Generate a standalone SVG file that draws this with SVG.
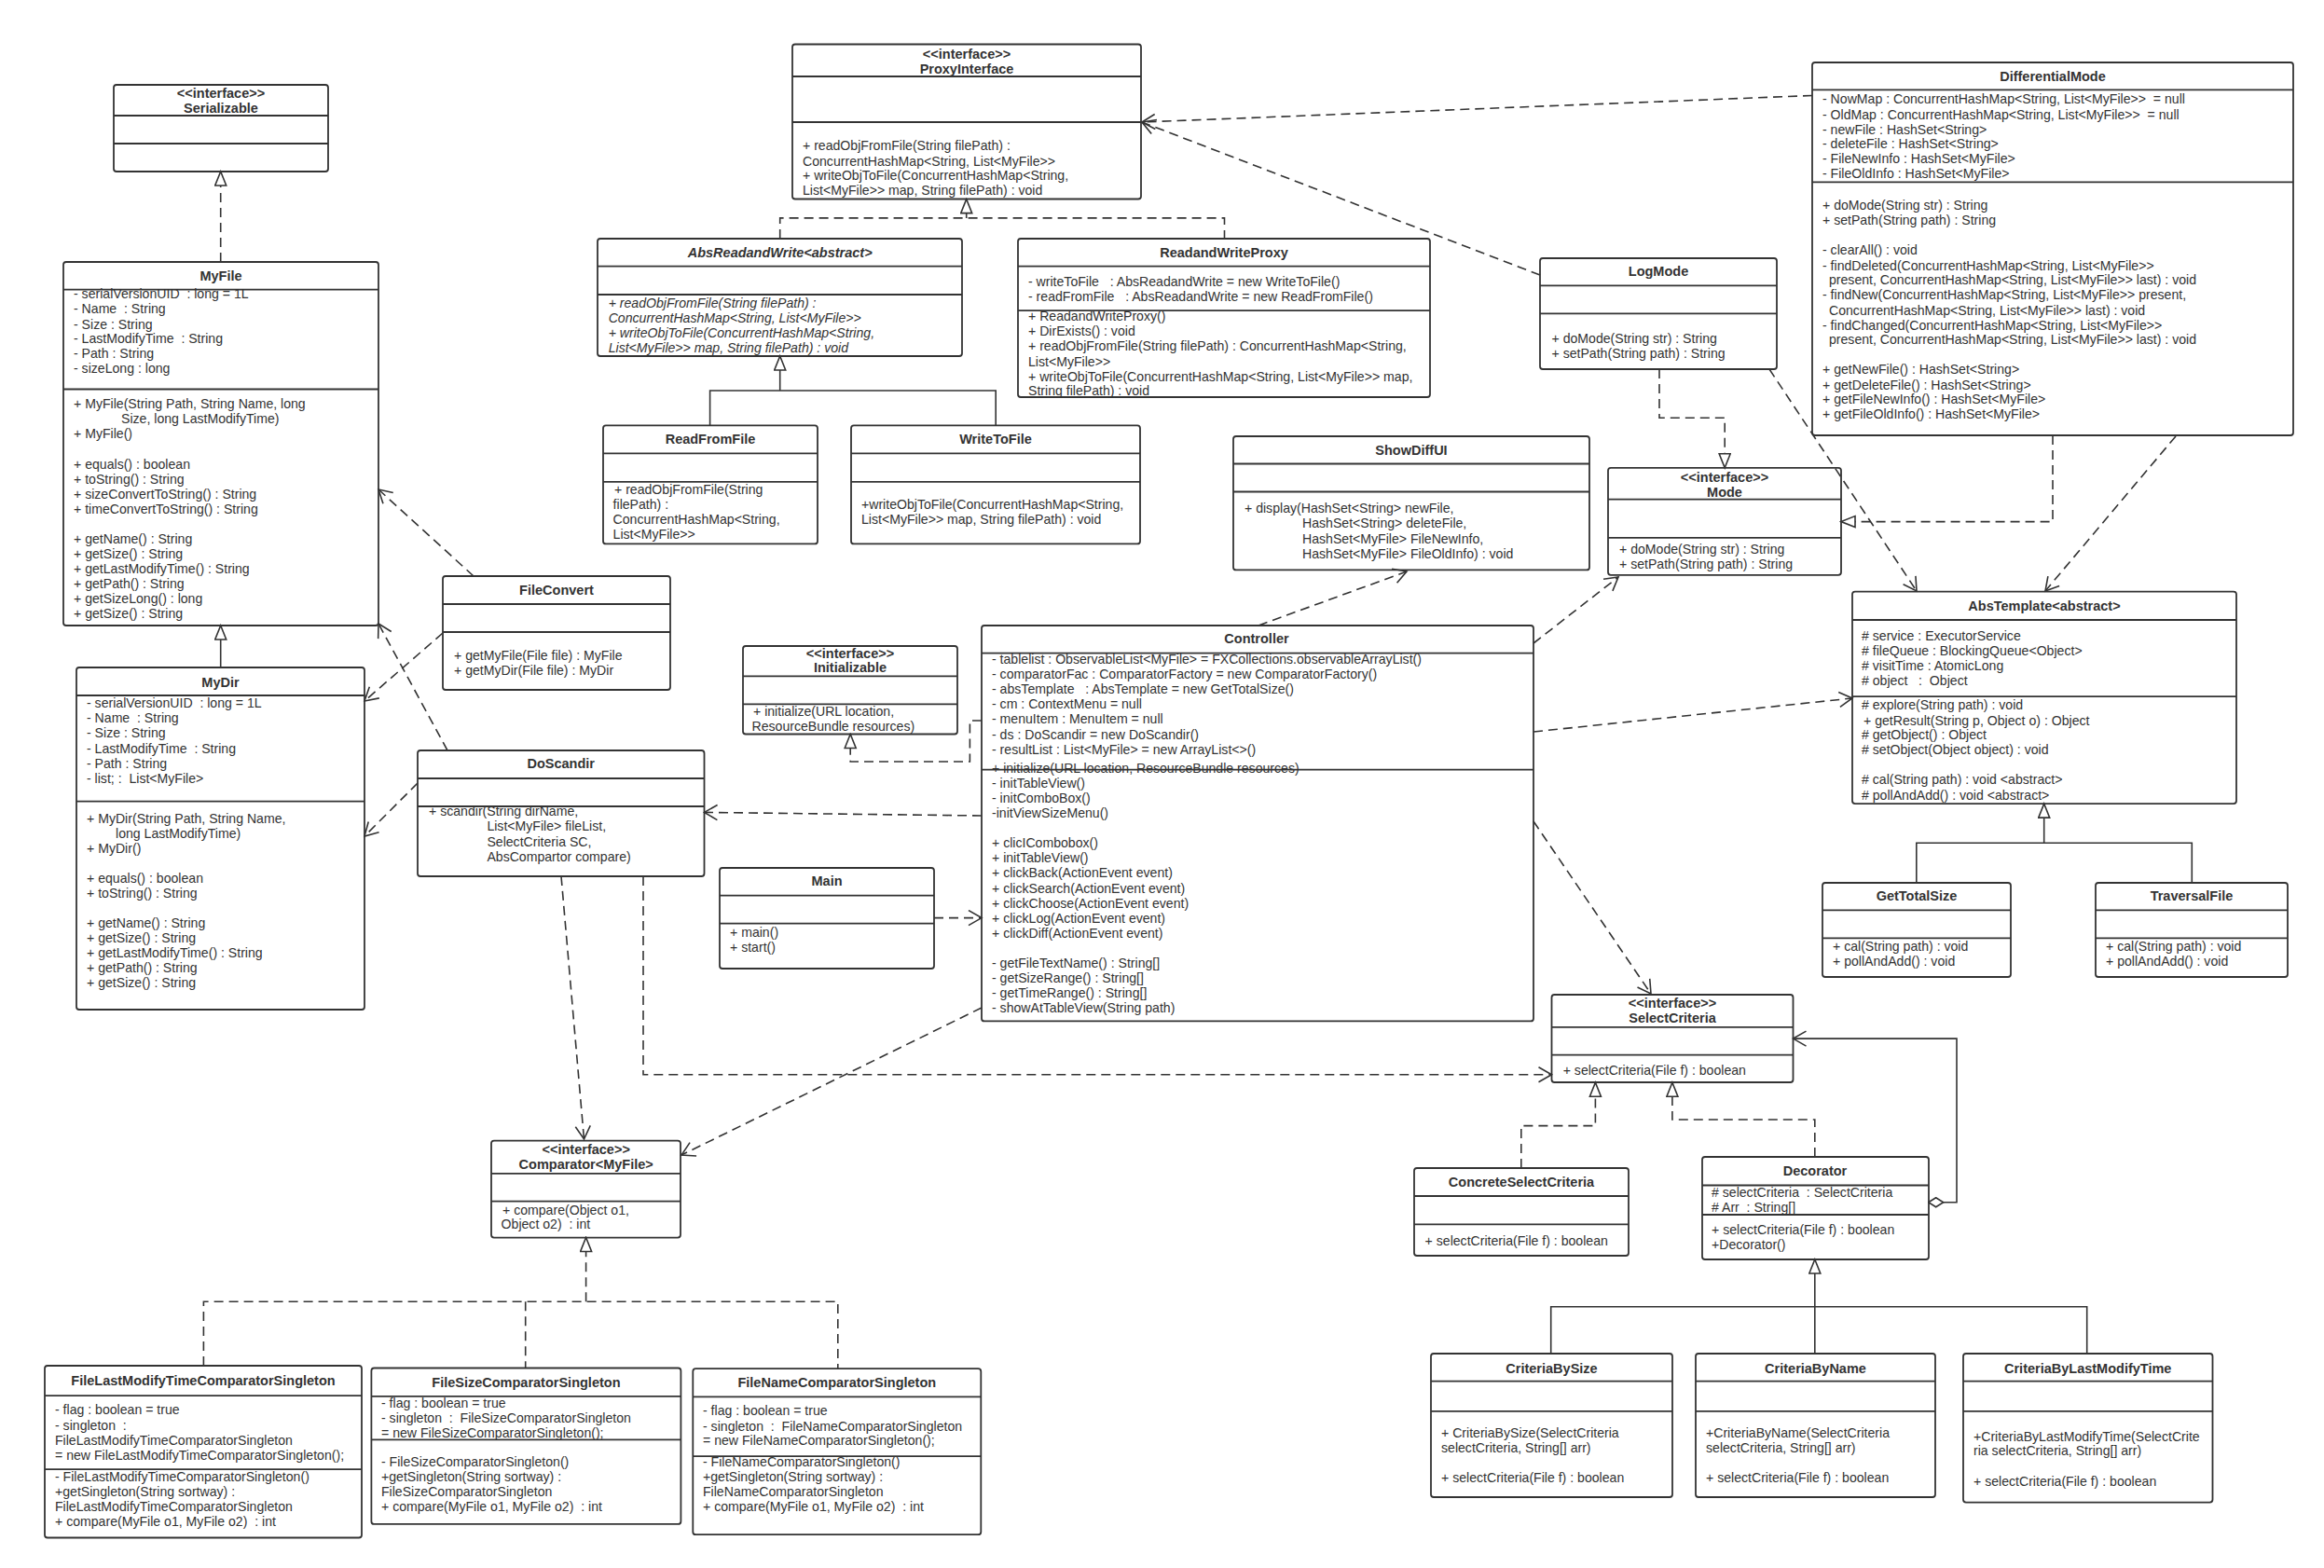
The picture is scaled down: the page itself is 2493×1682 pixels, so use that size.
<svg xmlns="http://www.w3.org/2000/svg" width="2493" height="1682" viewBox="0 0 2493 1682">
<style>
.box{fill:#fff;stroke:#333;stroke-width:1.8}
.dv{stroke:#333;stroke-width:1.8}
.t{font-family:"Liberation Sans",Arial,sans-serif;font-size:14.1px;fill:#333;white-space:pre}
.b{font-weight:bold;text-anchor:middle;font-size:14.5px}
.i{font-style:italic}
.dash{fill:none;stroke:#333;stroke-width:1.6;stroke-dasharray:10 6}
.solid{fill:none;stroke:#333;stroke-width:1.6}
.oa{marker-end:url(#openArrow)}
.ht{marker-end:url(#hollowTri)}
</style>
<defs>
<marker id="openArrow" markerUnits="userSpaceOnUse" markerWidth="18" markerHeight="20" refX="15" refY="9" orient="auto">
<path d="M1,1 L15,9 L1,17" fill="none" stroke="#333" stroke-width="1.6" stroke-dasharray="none"/>
</marker>
<marker id="hollowTri" markerUnits="userSpaceOnUse" markerWidth="18" markerHeight="16" refX="16" refY="7" orient="auto">
<path d="M1,1 L16,7 L1,13 Z" fill="#fff" stroke="#333" stroke-width="1.6" stroke-dasharray="none"/>
</marker>
<marker id="diamond" markerUnits="userSpaceOnUse" markerWidth="20" markerHeight="14" refX="1" refY="6" orient="auto">
<path d="M1,6 L9,1 L17,6 L9,11 Z" fill="#fff" stroke="#333" stroke-width="1.6"/>
</marker>
</defs>
<rect width="2493" height="1682" fill="#fff"/>

<g id="Serializable">
<rect class="box" x="122" y="91" width="230" height="93" rx="3"/>
<line class="dv" x1="122" y1="124" x2="352" y2="124"/>
<line class="dv" x1="122" y1="154" x2="352" y2="154"/>
<text class="t b" x="237" y="105">&lt;&lt;interface&gt;&gt;</text>
<text class="t b" x="237" y="120.5">Serializable</text>
</g>

<g id="MyFile">
<rect class="box" x="68" y="281" width="338" height="390" rx="3"/>
<text class="t b" x="237" y="300.5">MyFile</text>
<text class="t">
<tspan x="79" y="320.4">- serialVersionUID  : long = 1L</tspan>
<tspan x="79" y="336.4">- Name  : String</tspan>
<tspan x="79" y="352.5">- Size : String</tspan>
<tspan x="79" y="368.2">- LastModifyTime  : String</tspan>
<tspan x="79" y="384.3">- Path : String</tspan>
<tspan x="79" y="400.4">- sizeLong : long</tspan>
<tspan x="79" y="438.2">+ MyFile(String Path, String Name, long</tspan>
<tspan x="130" y="454.3">Size, long LastModifyTime)</tspan>
<tspan x="79" y="470.4">+ MyFile()</tspan>
<tspan x="79" y="502.5">+ equals() : boolean</tspan>
<tspan x="79" y="518.6">+ toString() : String</tspan>
<tspan x="79" y="534.7">+ sizeConvertToString() : String</tspan>
<tspan x="79" y="550.7">+ timeConvertToString() : String</tspan>
<tspan x="79" y="582.8">+ getName() : String</tspan>
<tspan x="79" y="598.9">+ getSize() : String</tspan>
<tspan x="79" y="615">+ getLastModifyTime() : String</tspan>
<tspan x="79" y="631">+ getPath() : String</tspan>
<tspan x="79" y="647">+ getSizeLong() : long</tspan>
<tspan x="79" y="663">+ getSize() : String</tspan>
</text>
<line class="dv" x1="68" y1="310.7" x2="406" y2="310.7"/>
<line class="dv" x1="68" y1="417.5" x2="406" y2="417.5"/>
</g>

<g id="MyDir">
<rect class="box" x="82" y="716" width="309" height="367" rx="3"/>
<text class="t b" x="236.5" y="736.8">MyDir</text>
<text class="t">
<tspan x="93" y="759.3">- serialVersionUID  : long = 1L</tspan>
<tspan x="93" y="775.4">- Name  : String</tspan>
<tspan x="93" y="791.4">- Size : String</tspan>
<tspan x="93" y="807.5">- LastModifyTime  : String</tspan>
<tspan x="93" y="823.6">- Path : String</tspan>
<tspan x="93" y="839.6">- list; :  List&lt;MyFile&gt;</tspan>
<tspan x="93" y="882.5">+ MyDir(String Path, String Name,</tspan>
<tspan x="124" y="898.6">long LastModifyTime)</tspan>
<tspan x="93" y="914.6">+ MyDir()</tspan>
<tspan x="93" y="946.8">+ equals() : boolean</tspan>
<tspan x="93" y="962.9">+ toString() : String</tspan>
<tspan x="93" y="995">+ getName() : String</tspan>
<tspan x="93" y="1011">+ getSize() : String</tspan>
<tspan x="93" y="1027">+ getLastModifyTime() : String</tspan>
<tspan x="93" y="1043">+ getPath() : String</tspan>
<tspan x="93" y="1059">+ getSize() : String</tspan>
</text>
<line class="dv" x1="82" y1="746" x2="391" y2="746"/>
<line class="dv" x1="82" y1="859.6" x2="391" y2="859.6"/>
</g>

<g id="FileConvert">
<rect class="box" x="475" y="618" width="244" height="122" rx="3"/>
<line class="dv" x1="475" y1="648" x2="719" y2="648"/>
<line class="dv" x1="475" y1="678" x2="719" y2="678"/>
<text class="t b" x="597" y="637.5">FileConvert</text>
<text class="t">
<tspan x="487" y="707.5">+ getMyFile(File file) : MyFile</tspan>
<tspan x="487" y="723.6">+ getMyDir(File file) : MyDir</tspan>
</text>
</g>

<g id="DoScandir">
<rect class="box" x="448" y="805" width="307.5" height="135" rx="3"/>
<text class="t b" x="601.7" y="824.3">DoScandir</text>
<text class="t">
<tspan x="460" y="875.4">+ scandir(String dirName,</tspan>
<tspan x="522.4" y="891.4">List&lt;MyFile&gt; fileList,</tspan>
<tspan x="522.4" y="907.5">SelectCriteria SC,</tspan>
<tspan x="522.4" y="923.6">AbsCompartor compare)</tspan>
</text>
<line class="dv" x1="448" y1="835" x2="755.5" y2="835"/>
<line class="dv" x1="448" y1="865" x2="755.5" y2="865"/>
</g>

<g id="ProxyInterface">
<rect class="box" x="850" y="47.5" width="374" height="166" rx="3"/>
<line class="dv" x1="850" y1="82" x2="1224" y2="82"/>
<line class="dv" x1="850" y1="131" x2="1224" y2="131"/>
<text class="t b" x="1037" y="62.5">&lt;&lt;interface&gt;&gt;</text>
<text class="t b" x="1037" y="78.6">ProxyInterface</text>
<text class="t">
<tspan x="861" y="161.4">+ readObjFromFile(String filePath) :</tspan>
<tspan x="861" y="177.5">ConcurrentHashMap&lt;String, List&lt;MyFile&gt;&gt;</tspan>
<tspan x="861" y="193.2">+ writeObjToFile(ConcurrentHashMap&lt;String,</tspan>
<tspan x="861" y="209.3">List&lt;MyFile&gt;&gt; map, String filePath) : void</tspan>
</text>
</g>

<g id="AbsReadandWrite">
<rect class="box" x="641" y="256" width="391" height="126" rx="3"/>
<line class="dv" x1="641" y1="285.7" x2="1032" y2="285.7"/>
<line class="dv" x1="641" y1="316" x2="1032" y2="316"/>
<text class="t b i" x="836.7" y="275.7">AbsReadandWrite&lt;abstract&gt;</text>
<text class="t i">
<tspan x="652.7" y="330">+ readObjFromFile(String filePath) :</tspan>
<tspan x="652.7" y="346">ConcurrentHashMap&lt;String, List&lt;MyFile&gt;&gt;</tspan>
<tspan x="652.7" y="362">+ writeObjToFile(ConcurrentHashMap&lt;String,</tspan>
<tspan x="652.7" y="378.2">List&lt;MyFile&gt;&gt; map, String filePath) : void</tspan>
</text>
</g>

<g id="ReadandWriteProxy">
<rect class="box" x="1092" y="256" width="442" height="170" rx="3"/>
<text class="t b" x="1313" y="275.7">ReadandWriteProxy</text>
<text class="t">
<tspan x="1103" y="306.8">- writeToFile   : AbsReadandWrite = new WriteToFile()</tspan>
<tspan x="1103" y="322.5">- readFromFile   : AbsReadandWrite = new ReadFromFile()</tspan>
<tspan x="1103" y="344.3">+ ReadandWriteProxy()</tspan>
<tspan x="1103" y="360.4">+ DirExists() : void</tspan>
<tspan x="1103" y="376.4">+ readObjFromFile(String filePath) : ConcurrentHashMap&lt;String,</tspan>
<tspan x="1103" y="392.5">List&lt;MyFile&gt;&gt;</tspan>
<tspan x="1103" y="408.6">+ writeObjToFile(ConcurrentHashMap&lt;String, List&lt;MyFile&gt;&gt; map,</tspan>
<tspan x="1103" y="424">String filePath) : void</tspan>
</text>
<line class="dv" x1="1092" y1="285.7" x2="1534" y2="285.7"/>
<line class="dv" x1="1092" y1="333.2" x2="1534" y2="333.2"/>
</g>

<g id="ReadFromFile">
<rect class="box" x="647" y="456.4" width="230" height="127" rx="3"/>
<line class="dv" x1="647" y1="486.4" x2="877" y2="486.4"/>
<line class="dv" x1="647" y1="516.8" x2="877" y2="516.8"/>
<text class="t b" x="762" y="476.4">ReadFromFile</text>
<text class="t">
<tspan x="659" y="530.4">+ readObjFromFile(String</tspan>
<tspan x="657.6" y="546.4">filePath) :</tspan>
<tspan x="657.6" y="562.1">ConcurrentHashMap&lt;String,</tspan>
<tspan x="657.6" y="578.2">List&lt;MyFile&gt;&gt;</tspan>
</text>
</g>

<g id="WriteToFile">
<rect class="box" x="913" y="456.4" width="310" height="127" rx="3"/>
<line class="dv" x1="913" y1="486.4" x2="1223" y2="486.4"/>
<line class="dv" x1="913" y1="516.8" x2="1223" y2="516.8"/>
<text class="t b" x="1068" y="476.4">WriteToFile</text>
<text class="t">
<tspan x="924" y="546.4">+writeObjToFile(ConcurrentHashMap&lt;String,</tspan>
<tspan x="924" y="562.1">List&lt;MyFile&gt;&gt; map, String filePath) : void</tspan>
</text>
</g>

<g id="ShowDiffUI">
<rect class="box" x="1323" y="468" width="382" height="143.4" rx="3"/>
<line class="dv" x1="1323" y1="497.5" x2="1705" y2="497.5"/>
<line class="dv" x1="1323" y1="527.5" x2="1705" y2="527.5"/>
<text class="t b" x="1514" y="487.5">ShowDiffUI</text>
<text class="t">
<tspan x="1335" y="550.4">+ display(HashSet&lt;String&gt; newFile,</tspan>
<tspan x="1397" y="566.4">HashSet&lt;String&gt; deleteFile,</tspan>
<tspan x="1397" y="582.5">HashSet&lt;MyFile&gt; FileNewInfo,</tspan>
<tspan x="1397" y="598.6">HashSet&lt;MyFile&gt; FileOldInfo) : void</tspan>
</text>
</g>

<g id="Mode">
<rect class="box" x="1725" y="501.8" width="250" height="115" rx="3"/>
<line class="dv" x1="1725" y1="535.7" x2="1975" y2="535.7"/>
<line class="dv" x1="1725" y1="576.8" x2="1975" y2="576.8"/>
<text class="t b" x="1850" y="516.8">&lt;&lt;interface&gt;&gt;</text>
<text class="t b" x="1850" y="532.5">Mode</text>
<text class="t">
<tspan x="1737" y="594.3">+ doMode(String str) : String</tspan>
<tspan x="1737" y="610.4">+ setPath(String path) : String</tspan>
</text>
</g>

<g id="LogMode">
<rect class="box" x="1652" y="277" width="254" height="119" rx="3"/>
<line class="dv" x1="1652" y1="306.4" x2="1906" y2="306.4"/>
<line class="dv" x1="1652" y1="336.4" x2="1906" y2="336.4"/>
<text class="t b" x="1779" y="296.4">LogMode</text>
<text class="t">
<tspan x="1664.5" y="367.5">+ doMode(String str) : String</tspan>
<tspan x="1664.5" y="383.6">+ setPath(String path) : String</tspan>
</text>
</g>

<g id="DifferentialMode">
<rect class="box" x="1944" y="67" width="516" height="400" rx="3"/>
<line class="dv" x1="1944" y1="96.4" x2="2460" y2="96.4"/>
<line class="dv" x1="1944" y1="195.4" x2="2460" y2="195.4"/>
<text class="t b" x="2202" y="87.1">DifferentialMode</text>
<text class="t">
<tspan x="1955" y="111.4">- NowMap : ConcurrentHashMap&lt;String, List&lt;MyFile&gt;&gt;  = null</tspan>
<tspan x="1955" y="127.5">- OldMap : ConcurrentHashMap&lt;String, List&lt;MyFile&gt;&gt;  = null</tspan>
<tspan x="1955" y="143.6">- newFile : HashSet&lt;String&gt;</tspan>
<tspan x="1955" y="159.3">- deleteFile : HashSet&lt;String&gt;</tspan>
<tspan x="1955" y="175.4">- FileNewInfo : HashSet&lt;MyFile&gt;</tspan>
<tspan x="1955" y="191.4">- FileOldInfo : HashSet&lt;MyFile&gt;</tspan>
<tspan x="1955" y="225.4">+ doMode(String str) : String</tspan>
<tspan x="1955" y="241.4">+ setPath(String path) : String</tspan>
<tspan x="1955" y="273.2">- clearAll() : void</tspan>
<tspan x="1955" y="289.6">- findDeleted(ConcurrentHashMap&lt;String, List&lt;MyFile&gt;&gt;</tspan>
<tspan x="1962" y="305.4">present, ConcurrentHashMap&lt;String, List&lt;MyFile&gt;&gt; last) : void</tspan>
<tspan x="1955" y="321.4">- findNew(ConcurrentHashMap&lt;String, List&lt;MyFile&gt;&gt; present,</tspan>
<tspan x="1962" y="337.5">ConcurrentHashMap&lt;String, List&lt;MyFile&gt;&gt; last) : void</tspan>
<tspan x="1955" y="353.6">- findChanged(ConcurrentHashMap&lt;String, List&lt;MyFile&gt;&gt;</tspan>
<tspan x="1962" y="369.3">present, ConcurrentHashMap&lt;String, List&lt;MyFile&gt;&gt; last) : void</tspan>
<tspan x="1955" y="401.4">+ getNewFile() : HashSet&lt;String&gt;</tspan>
<tspan x="1955" y="417.5">+ getDeleteFile() : HashSet&lt;String&gt;</tspan>
<tspan x="1955" y="433.2">+ getFileNewInfo() : HashSet&lt;MyFile&gt;</tspan>
<tspan x="1955" y="449.3">+ getFileOldInfo() : HashSet&lt;MyFile&gt;</tspan>
</text>
</g>

<g id="AbsTemplate">
<rect class="box" x="1987" y="634.6" width="412" height="227.5" rx="3"/>
<line class="dv" x1="1987" y1="665" x2="2399" y2="665"/>
<line class="dv" x1="1987" y1="747.1" x2="2399" y2="747.1"/>
<text class="t b" x="2193" y="654.6">AbsTemplate&lt;abstract&gt;</text>
<text class="t">
<tspan x="1997" y="687.1"># service : ExecutorService</tspan>
<tspan x="1997" y="703.2"># fileQueue : BlockingQueue&lt;Object&gt;</tspan>
<tspan x="1997" y="719.3"># visitTime : AtomicLong</tspan>
<tspan x="1997" y="735.4"># object   :  Object</tspan>
<tspan x="1997" y="761.4"># explore(String path) : void</tspan>
<tspan x="1999" y="777.5">+ getResult(String p, Object o) : Object</tspan>
<tspan x="1997" y="793.2"># getObject() : Object</tspan>
<tspan x="1997" y="809.3"># setObject(Object object) : void</tspan>
<tspan x="1997" y="841.4"># cal(String path) : void &lt;abstract&gt;</tspan>
<tspan x="1997" y="857.5"># pollAndAdd() : void &lt;abstract&gt;</tspan>
</text>
</g>

<g id="GetTotalSize">
<rect class="box" x="1955" y="947" width="202" height="101" rx="3"/>
<line class="dv" x1="1955" y1="976.4" x2="2157" y2="976.4"/>
<line class="dv" x1="1955" y1="1006.4" x2="2157" y2="1006.4"/>
<text class="t b" x="2056" y="966.4">GetTotalSize</text>
<text class="t">
<tspan x="1966" y="1020.4">+ cal(String path) : void</tspan>
<tspan x="1966" y="1036.4">+ pollAndAdd() : void</tspan>
</text>
</g>

<g id="TraversalFile">
<rect class="box" x="2248" y="947" width="206" height="101" rx="3"/>
<line class="dv" x1="2248" y1="976.4" x2="2454" y2="976.4"/>
<line class="dv" x1="2248" y1="1006.4" x2="2454" y2="1006.4"/>
<text class="t b" x="2351" y="966.4">TraversalFile</text>
<text class="t">
<tspan x="2259" y="1020.4">+ cal(String path) : void</tspan>
<tspan x="2259" y="1036.4">+ pollAndAdd() : void</tspan>
</text>
</g>

<g id="Initializable">
<rect class="box" x="797" y="693" width="230" height="94.5" rx="3"/>
<line class="dv" x1="797" y1="725.4" x2="1027" y2="725.4"/>
<line class="dv" x1="797" y1="755.4" x2="1027" y2="755.4"/>
<text class="t b" x="912" y="705.7">&lt;&lt;interface&gt;&gt;</text>
<text class="t b" x="912" y="721.4">Initializable</text>
<text class="t">
<tspan x="808" y="768.2">+ initialize(URL location,</tspan>
<tspan x="806.5" y="784.3">ResourceBundle resources)</tspan>
</text>
</g>

<g id="Controller">
<rect class="box" x="1053" y="671" width="592" height="424.4" rx="3"/>
<text class="t b" x="1348" y="690.4">Controller</text>
<text class="t">
<tspan x="1064" y="712">- tablelist : ObservableList&lt;MyFile&gt; = FXCollections.observableArrayList()</tspan>
<tspan x="1064" y="728.2">- comparatorFac : ComparatorFactory = new ComparatorFactory()</tspan>
<tspan x="1064" y="744.3">- absTemplate   : AbsTemplate = new GetTotalSize()</tspan>
<tspan x="1064" y="760.4">- cm : ContextMenu = null</tspan>
<tspan x="1064" y="776.4">- menuItem : MenuItem = null</tspan>
<tspan x="1064" y="792.5">- ds : DoScandir = new DoScandir()</tspan>
<tspan x="1064" y="808.6">- resultList : List&lt;MyFile&gt; = new ArrayList&lt;&gt;()</tspan>
<tspan x="1064" y="829.3">+ initialize(URL location, ResourceBundle resources)</tspan>
<tspan x="1064" y="845">- initTableView()</tspan>
<tspan x="1064" y="861">- initComboBox()</tspan>
<tspan x="1064" y="877">-initViewSizeMenu()</tspan>
<tspan x="1064" y="909.3">+ clicICombobox()</tspan>
<tspan x="1064" y="925.4">+ initTableView()</tspan>
<tspan x="1064" y="941.4">+ clickBack(ActionEvent event)</tspan>
<tspan x="1064" y="957.5">+ clickSearch(ActionEvent event)</tspan>
<tspan x="1064" y="973.6">+ clickChoose(ActionEvent event)</tspan>
<tspan x="1064" y="989.6">+ clickLog(ActionEvent event)</tspan>
<tspan x="1064" y="1005.7">+ clickDiff(ActionEvent event)</tspan>
<tspan x="1064" y="1037.9">- getFileTextName() : String[]</tspan>
<tspan x="1064" y="1054">- getSizeRange() : String[]</tspan>
<tspan x="1064" y="1070">- getTimeRange() : String[]</tspan>
<tspan x="1064" y="1086">- showAtTableView(String path)</tspan>
</text>
<line class="dv" x1="1053" y1="700.7" x2="1645" y2="700.7"/>
<line class="dv" x1="1053" y1="825.7" x2="1645" y2="825.7"/>
</g>

<g id="Main">
<rect class="box" x="772" y="931" width="230" height="108" rx="3"/>
<line class="dv" x1="772" y1="960.7" x2="1002" y2="960.7"/>
<line class="dv" x1="772" y1="990.7" x2="1002" y2="990.7"/>
<text class="t b" x="887" y="950.4">Main</text>
<text class="t">
<tspan x="783" y="1004.6">+ main()</tspan>
<tspan x="783" y="1020.7">+ start()</tspan>
</text>
</g>

<g id="SelectCriteria">
<rect class="box" x="1664.5" y="1067" width="259" height="94" rx="3"/>
<line class="dv" x1="1664.5" y1="1101.9" x2="1923.5" y2="1101.9"/>
<line class="dv" x1="1664.5" y1="1131.6" x2="1923.5" y2="1131.6"/>
<text class="t b" x="1794" y="1081.4">&lt;&lt;interface&gt;&gt;</text>
<text class="t b" x="1794" y="1096.8">SelectCriteria</text>
<text class="t" x="1676.7" y="1153.3">+ selectCriteria(File f) : boolean</text>
</g>

<g id="ConcreteSelectCriteria">
<rect class="box" x="1517" y="1253" width="230" height="94" rx="3"/>
<line class="dv" x1="1517" y1="1283" x2="1747" y2="1283"/>
<line class="dv" x1="1517" y1="1313.4" x2="1747" y2="1313.4"/>
<text class="t b" x="1632" y="1273.2">ConcreteSelectCriteria</text>
<text class="t" x="1528.6" y="1335.5">+ selectCriteria(File f) : boolean</text>
</g>

<g id="Decorator">
<rect class="box" x="1826" y="1241" width="243" height="110" rx="3"/>
<line class="dv" x1="1826" y1="1271.5" x2="2069" y2="1271.5"/>
<line class="dv" x1="1826" y1="1303" x2="2069" y2="1303"/>
<text class="t b" x="1947" y="1261.3">Decorator</text>
<text class="t">
<tspan x="1836" y="1284.3"># selectCriteria  : SelectCriteria</tspan>
<tspan x="1836" y="1300.2"># Arr  : String[]</tspan>
<tspan x="1836" y="1324.4">+ selectCriteria(File f) : boolean</tspan>
<tspan x="1836" y="1340.3">+Decorator()</tspan>
</text>
</g>

<g id="CriteriaBySize">
<rect class="box" x="1535" y="1452" width="259" height="154" rx="3"/>
<line class="dv" x1="1535" y1="1481.6" x2="1794" y2="1481.6"/>
<line class="dv" x1="1535" y1="1513.9" x2="1794" y2="1513.9"/>
<text class="t b" x="1664.5" y="1472.5">CriteriaBySize</text>
<text class="t">
<tspan x="1546" y="1542.3">+ CriteriaBySize(SelectCriteria</tspan>
<tspan x="1546" y="1558.2">selectCriteria, String[] arr)</tspan>
<tspan x="1546" y="1590.2">+ selectCriteria(File f) : boolean</tspan>
</text>
</g>

<g id="CriteriaByName">
<rect class="box" x="1819" y="1452" width="257" height="154" rx="3"/>
<line class="dv" x1="1819" y1="1481.6" x2="2076" y2="1481.6"/>
<line class="dv" x1="1819" y1="1513.9" x2="2076" y2="1513.9"/>
<text class="t b" x="1947.5" y="1472.5">CriteriaByName</text>
<text class="t">
<tspan x="1830" y="1542.3">+CriteriaByName(SelectCriteria</tspan>
<tspan x="1830" y="1558.2">selectCriteria, String[] arr)</tspan>
<tspan x="1830" y="1590.2">+ selectCriteria(File f) : boolean</tspan>
</text>
</g>

<g id="CriteriaByLastModifyTime">
<rect class="box" x="2106" y="1452" width="267.5" height="159.6" rx="3"/>
<line class="dv" x1="2106" y1="1481.6" x2="2373.5" y2="1481.6"/>
<line class="dv" x1="2106" y1="1513.9" x2="2373.5" y2="1513.9"/>
<text class="t b" x="2239.7" y="1472.5">CriteriaByLastModifyTime</text>
<text class="t">
<tspan x="2117" y="1545.6">+CriteriaByLastModifyTime(SelectCrite</tspan>
<tspan x="2117" y="1561.2">ria selectCriteria, String[] arr)</tspan>
<tspan x="2117" y="1593.5">+ selectCriteria(File f) : boolean</tspan>
</text>
</g>

<g id="Comparator">
<rect class="box" x="527" y="1223.6" width="203" height="104" rx="3"/>
<line class="dv" x1="527" y1="1258.9" x2="730" y2="1258.9"/>
<line class="dv" x1="527" y1="1288.6" x2="730" y2="1288.6"/>
<text class="t b" x="628.7" y="1237.5">&lt;&lt;interface&gt;&gt;</text>
<text class="t b" x="628.7" y="1253.5">Comparator&lt;MyFile&gt;</text>
<text class="t">
<tspan x="539" y="1302.5">+ compare(Object o1,</tspan>
<tspan x="537.6" y="1318.4">Object o2)  : int</tspan>
</text>
</g>

<g id="FileLastModifyTimeComparatorSingleton">
<rect class="box" x="48" y="1465" width="340" height="184.5" rx="3"/>
<line class="dv" x1="48" y1="1497.2" x2="388" y2="1497.2"/>
<line class="dv" x1="48" y1="1576.2" x2="388" y2="1576.2"/>
<text class="t b" x="218" y="1486.2">FileLastModifyTimeComparatorSingleton</text>
<text class="t">
<tspan x="59" y="1517.4">- flag : boolean = true</tspan>
<tspan x="59" y="1533.7">- singleton  :</tspan>
<tspan x="59" y="1549.7">FileLastModifyTimeComparatorSingleton</tspan>
<tspan x="59" y="1565.7">= new FileLastModifyTimeComparatorSingleton();</tspan>
<tspan x="59" y="1588.7">- FileLastModifyTimeComparatorSingleton()</tspan>
<tspan x="59" y="1604.6">+getSingleton(String sortway) :</tspan>
<tspan x="59" y="1620.6">FileLastModifyTimeComparatorSingleton</tspan>
<tspan x="59" y="1636.6">+ compare(MyFile o1, MyFile o2)  : int</tspan>
</text>
</g>

<g id="FileSizeComparatorSingleton">
<rect class="box" x="398.4" y="1467.5" width="332" height="167.4" rx="3"/>
<line class="dv" x1="398.4" y1="1497.9" x2="730.4" y2="1497.9"/>
<line class="dv" x1="398.4" y1="1544.3" x2="730.4" y2="1544.3"/>
<text class="t b" x="564.4" y="1488">FileSizeComparatorSingleton</text>
<text class="t">
<tspan x="409" y="1510.3">- flag : boolean = true</tspan>
<tspan x="409" y="1526.3">- singleton  :  FileSizeComparatorSingleton</tspan>
<tspan x="409" y="1542.3">= new FileSizeComparatorSingleton();</tspan>
<tspan x="409" y="1572.7">- FileSizeComparatorSingleton()</tspan>
<tspan x="409" y="1588.7">+getSingleton(String sortway) :</tspan>
<tspan x="409" y="1604.6">FileSizeComparatorSingleton</tspan>
<tspan x="409" y="1620.6">+ compare(MyFile o1, MyFile o2)  : int</tspan>
</text>
</g>

<g id="FileNameComparatorSingleton">
<rect class="box" x="743.3" y="1468.2" width="309" height="178" rx="3"/>
<line class="dv" x1="743.3" y1="1498.3" x2="1052.3" y2="1498.3"/>
<text class="t b" x="897.8" y="1488">FileNameComparatorSingleton</text>
<text class="t">
<tspan x="754" y="1518.1">- flag : boolean = true</tspan>
<tspan x="754" y="1534.5">- singleton  :  FileNameComparatorSingleton</tspan>
<tspan x="754" y="1550.1">= new FileNameComparatorSingleton();</tspan>
<tspan x="754" y="1573.4">- FileNameComparatorSingleton()</tspan>
<tspan x="754" y="1589.4">+getSingleton(String sortway) :</tspan>
<tspan x="754" y="1605.4">FileNameComparatorSingleton</tspan>
<tspan x="754" y="1621.3">+ compare(MyFile o1, MyFile o2)  : int</tspan>
</text>
<line class="dv" x1="743.3" y1="1562.1" x2="1052.3" y2="1562.1"/>
</g>

<g id="connectors">
<path class="dash ht" d="M236.7,281 V184"/>
<path class="solid ht" d="M236.7,716 V671"/>
<path class="dash oa" d="M508,618 L406,525"/>
<path class="dash oa" d="M475,679 L391,752"/>
<path class="dash oa" d="M480,805 L406,669"/>
<path class="dash oa" d="M448,840 L391,897"/>
<path class="dash oa" d="M602,940 L626.5,1222"/>
<path class="dash oa" d="M690,940 V1152.7 H1664.5"/>
<path class="dash oa" d="M1053,875 L755.5,871.4"/>
<path class="dash ht" d="M1053,773 H1040.4 V817 H912.2 V787.5"/>
<path class="dash oa" d="M1002,984.6 H1053"/>
<path class="dash oa" d="M1053,1081 L731,1239"/>
<path class="dash oa" d="M1350,671 L1509,613"/>
<path class="dash oa" d="M1645,690 L1736,619"/>
<path class="dash oa" d="M1645,785 L1987,749"/>
<path class="dash oa" d="M1645,881 L1771,1066"/>
<path class="dash oa" d="M1944,102.5 L1225,131"/>
<path class="dash oa" d="M1652,295 L1225,131"/>
<path class="dash ht" d="M1780,396 V448.2 H1850.2 V501.8"/>
<path class="dash ht" d="M2202,467 V559.6 H1975"/>
<path class="dash oa" d="M1898,396 L2056,634"/>
<path class="dash oa" d="M2334,467.9 L2194,634"/>
<path class="solid ht" d="M2192.7,904.3 V862.1"/>
<path class="solid" d="M2055.8,947 V904.3 H2351.3 V947"/>
<path class="dash ht" d="M1036.7,233.9 V213.6"/>
<path class="dash" d="M836.7,256 V233.9 H1313.5 V256"/>
<path class="solid ht" d="M836.7,419 V382"/>
<path class="solid" d="M761.6,456.4 V419 H1068.2 V456.4"/>
<path class="dash ht" d="M628.6,1396.2 V1327.5"/>
<path class="dash" d="M218.4,1465 V1396.2 H898.8 V1468.2"/>
<path class="dash" d="M563.7,1396.2 V1467.5"/>
<path class="dash ht" d="M1631.8,1253 V1207.6 H1711.4 V1161.2"/>
<path class="dash ht" d="M1946.8,1241 V1201 H1793.9 V1161.2"/>
<path class="solid oa" style="marker-start:url(#diamond)" d="M2068.7,1289.7 H2099 V1114.1 H1923.5"/>
<path class="solid ht" d="M1946.8,1401.8 V1351"/>
<path class="solid" d="M1663.7,1452 V1401.8 H2238.7 V1452 M1946.8,1452 V1401.8"/>
</g>
</svg>
